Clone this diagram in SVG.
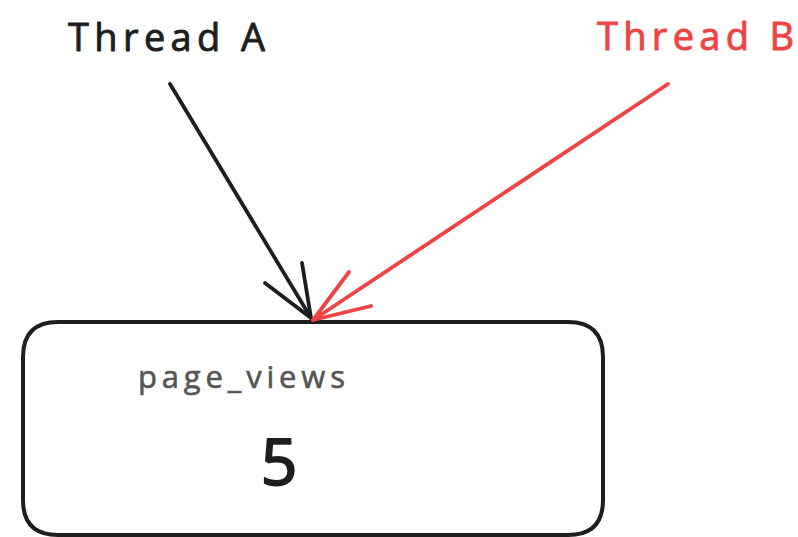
<svg xmlns="http://www.w3.org/2000/svg" width="798" height="537" viewBox="0 0 798 537">
  <style>
    .label { font-family: "Open Sans", "Liberation Sans", sans-serif; stroke-linejoin: round; }
    .edge { fill: none; stroke-width: 3.8; stroke-linecap: round; stroke-linejoin: round; }
    .dark { stroke: #1e1e1e; }
    .red { stroke: #ef4444; }
  </style>
  <rect width="798" height="537" fill="#ffffff"/>

  <g id="thread-a">
    <text class="label" x="68" y="51" font-size="38" fill="#1e1e1e" stroke="#1e1e1e" stroke-width="0.9" textLength="197" lengthAdjust="spacing">Thread A</text>
  </g>

  <g id="thread-b">
    <text class="label" x="597" y="50" font-size="38" fill="#ef4444" stroke="#ef4444" stroke-width="0.9" textLength="197" lengthAdjust="spacing">Thread B</text>
  </g>

  <g id="page-views">
    <path d="M58 322 L568 322 Q603 322 603 357 L603 500 Q603 535 568 535 L58 535 Q23 535 23 500 L23 357 Q23 322 58 322 Z" fill="#ffffff" stroke="#1e1e1e" stroke-width="4"/>
    <text class="label" x="138" y="388" font-size="31" fill="#555555" stroke="#555555" stroke-width="0.6" textLength="207" lengthAdjust="spacing">page_views</text>
    <text class="label" x="279" y="485" font-size="64" fill="#1e1e1e" stroke="#1e1e1e" stroke-width="2" text-anchor="middle">5</text>
  </g>

  <g id="connectors">
    <path class="edge dark" d="M170 84 L311 318"/>
    <path class="edge dark" d="M265 283 L311 318 L302 263"/>
    <path class="edge red" d="M668 84 L313 320"/>
    <path class="edge red" d="M349 272 L313 320 L371 306"/>
  </g>
</svg>
